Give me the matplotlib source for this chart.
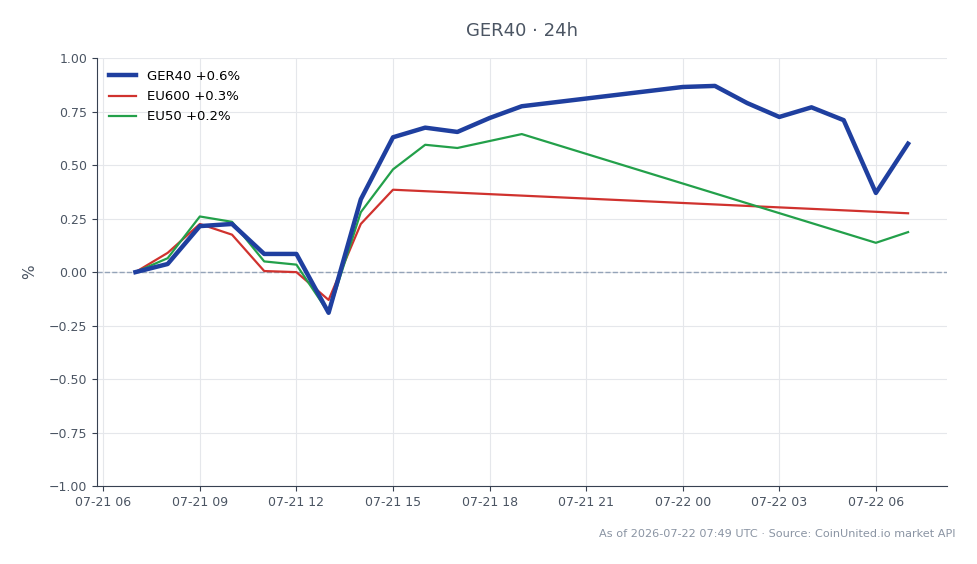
import numpy as np
import pandas as pd
import matplotlib
matplotlib.use("Agg")
import matplotlib.pyplot as plt
import matplotlib.dates as mdates

BLUE  = "#1f3f9f"
RED   = "#d0322e"
GREEN = "#23a04a"
TEXT_C  = "#4b5563"
GRID_C  = "#e5e7eb"
SPINE_C = "#374151"

# hourly timestamps (UTC)
ger_times = pd.to_datetime([
    "2026-07-21 07:00", "2026-07-21 08:00", "2026-07-21 09:00", "2026-07-21 10:00",
    "2026-07-21 11:00", "2026-07-21 12:00", "2026-07-21 13:00", "2026-07-21 14:00",
    "2026-07-21 15:00", "2026-07-21 16:00", "2026-07-21 17:00", "2026-07-21 18:00",
    "2026-07-21 19:00", "2026-07-22 00:00", "2026-07-22 01:00", "2026-07-22 02:00",
    "2026-07-22 03:00", "2026-07-22 04:00", "2026-07-22 05:00", "2026-07-22 06:00",
    "2026-07-22 07:00",
])
ger_vals = [0.00, 0.038, 0.215, 0.225, 0.085, 0.085, -0.19, 0.34,
            0.63, 0.675, 0.655, 0.72, 0.775, 0.865, 0.87, 0.79,
            0.725, 0.77, 0.71, 0.37, 0.60]

eu600_times = pd.to_datetime([
    "2026-07-21 07:00", "2026-07-21 08:00", "2026-07-21 09:00", "2026-07-21 10:00",
    "2026-07-21 11:00", "2026-07-21 12:00", "2026-07-21 13:00", "2026-07-21 14:00",
    "2026-07-21 15:00", "2026-07-22 07:00",
])
eu600_vals = [0.00, 0.09, 0.225, 0.175, 0.005, 0.00, -0.13, 0.225, 0.385, 0.275]

eu50_times = pd.to_datetime([
    "2026-07-21 07:00", "2026-07-21 08:00", "2026-07-21 09:00", "2026-07-21 10:00",
    "2026-07-21 11:00", "2026-07-21 12:00", "2026-07-21 13:00", "2026-07-21 14:00",
    "2026-07-21 15:00", "2026-07-21 16:00", "2026-07-21 17:00", "2026-07-21 19:00",
    "2026-07-22 06:00", "2026-07-22 07:00",
])
eu50_vals = [0.00, 0.065, 0.26, 0.235, 0.05, 0.035, -0.19, 0.28,
             0.48, 0.595, 0.58, 0.645, 0.137, 0.187]

fig = plt.figure(figsize=(9.78, 5.64), dpi=100)
ax = fig.add_axes([0.099, 0.138, 0.869, 0.759])

ax.plot(ger_times, ger_vals, color=BLUE, linewidth=3.2, label="GER40 +0.6%", zorder=4)
ax.plot(eu600_times, eu600_vals, color=RED, linewidth=1.6, label="EU600 +0.3%", zorder=3)
ax.plot(eu50_times, eu50_vals, color=GREEN, linewidth=1.6, label="EU50 +0.2%", zorder=3)
ax.axhline(0, color="#94a3b8", linestyle="--", linewidth=1.0, zorder=1)

ax.set_ylim(-1, 1)
ax.set_yticks(np.arange(-1, 1.01, 0.25))
ax.yaxis.set_major_formatter(plt.FuncFormatter(lambda v, _: f"{v:.2f}".replace("-", "\u2212")))
ax.xaxis.set_major_locator(mdates.HourLocator(byhour=range(0, 24, 3)))
ax.xaxis.set_major_formatter(mdates.DateFormatter("%m-%d %H"))

ax.grid(True, color=GRID_C, linewidth=0.8)
ax.set_axisbelow(True)
for s in ["top", "right"]:
    ax.spines[s].set_visible(False)
for s in ["left", "bottom"]:
    ax.spines[s].set_color(SPINE_C)
ax.tick_params(colors=SPINE_C, labelsize=9, labelcolor=TEXT_C)
ax.set_ylabel("%", color=TEXT_C, fontsize=11, labelpad=8)

ax.set_title("GER40 \u00b7 24h", color=TEXT_C, fontsize=13, pad=16)
ax.legend(loc="upper left", frameon=False, fontsize=9.5, handlelength=2.1,
          labelspacing=0.55)

fig.text(0.977, 0.053, "As of 2026-07-22 07:49 UTC \u00b7 Source: CoinUnited.io market API",
         ha="right", va="center", fontsize=8.1, color="#8a94a3")

fig.savefig("out.png", dpi=100, facecolor="white")
